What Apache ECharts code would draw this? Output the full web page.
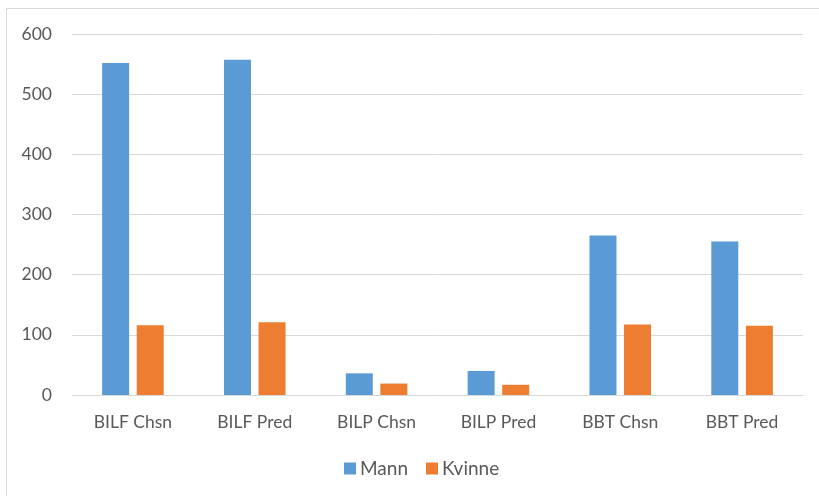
<!DOCTYPE html>
<html><head><meta charset="utf-8">
<script src="https://cdn.jsdelivr.net/npm/echarts@6/dist/echarts.min.js"></script>
<style>html,body{margin:0;padding:0;background:#fff}#c{width:819px;height:496px}</style>
</head><body><div id="c"></div>
<script>
const categories = ['BILF Chsn','BILF Pred','BILP Chsn','BILP Pred','BBT Chsn','BBT Pred'];
const mann = [552, 557, 36, 40, 265, 255];
const kvinne = [116, 121, 19, 17, 117, 115];
const seriesNames = ['Mann','Kvinne'];
const yTicks = {min: 0, max: 600, interval: 100};

const chart = echarts.init(document.getElementById('c'));
const font = 'Lato, "Noto Sans", sans-serif';
chart.setOption({
  animation: false,
  graphic: [{type:'rect', shape:{x:6.5,y:8.5,width:830,height:500}, style:{fill:'none',stroke:'#d9d9d9',lineWidth:1}, silent:true}],
  grid: {left:72, right:16, top:34, bottom:101, containLabel:false},
  legend: {data: seriesNames, top: 454, left: 339, itemWidth:12, itemHeight:12, itemGap:18, icon:'rect',
    textStyle:{color:'#595959', fontSize:19, fontFamily:font, padding:[0,0,0,-1]}},
  xAxis: {type:'category', data: categories, axisTick:{show:false},
    axisLine:{lineStyle:{color:'#d9d9d9', width:1}},
    axisLabel:{color:'#595959', fontSize:17.5, fontFamily:font, margin:18}},
  yAxis: {type:'value', min:yTicks.min, max:yTicks.max, interval:yTicks.interval,
    axisLine:{show:false}, axisTick:{show:false},
    splitLine:{lineStyle:{color:'#d9d9d9', width:1}},
    axisLabel:{color:'#595959', fontSize:17.5, fontFamily:font, margin:20}},
  series: [
    {name:seriesNames[0], type:'bar', data:mann, barWidth:27, barGap:'28%', itemStyle:{color:'#5b9bd5'}},
    {name:seriesNames[1], type:'bar', data:kvinne, barWidth:27, barGap:'28%', itemStyle:{color:'#ed7d31'}}
  ]
});
</script></body></html>
